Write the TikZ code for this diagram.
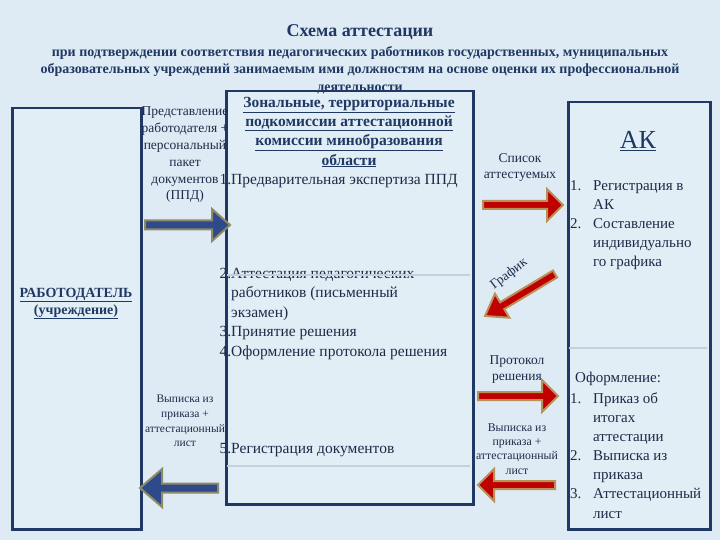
\documentclass[tikz,border=0pt]{standalone}
\usepackage{fontspec}
\setmainfont{Liberation Serif}
\usetikzlibrary{calc}
\definecolor{bg}{HTML}{DEEBF4}
\definecolor{boxfill}{HTML}{E2EEF6}
\definecolor{navy}{HTML}{1F3864}
\definecolor{txt}{HTML}{1E2A48}
\definecolor{divline}{HTML}{C3D1DC}
\definecolor{bluearr}{HTML}{2F4A8A}
\definecolor{bluebord}{HTML}{8E8A66}
\definecolor{redarr}{HTML}{C00000}
\definecolor{redbord}{HTML}{B8915A}
% #1 style, #2 from, #3 to, #4 shaft half width, #5 head half width, #6 head length
\newcommand{\blkarrow}[6]{%
  \path[#1] let \p1=(#2), \p2=(#3), \n1={atan2(\y2-\y1,\x2-\x1)},
    \n2={veclen(\x2-\x1,\y2-\y1)}, \n3={\n2-#6pt} in
    [shift={(\x1,\y1)}, rotate=\n1]
    (0pt,-#4pt) -- (\n3,-#4pt) -- (\n3,-#5pt) -- (\n2,0pt)
    -- (\n3,#5pt) -- (\n3,#4pt) -- (0pt,#4pt) -- cycle;}
\newcommand{\fs}[2]{\fontsize{#1}{#2}\selectfont}
\begin{document}
\begin{tikzpicture}[x=1pt,y=-1pt,
  box/.style={draw=navy, line width=2.5pt, fill=boxfill, inner sep=0pt},
  divider/.style={draw=divline, line width=2pt},
  lbl/.style={inner sep=0pt, text=txt, align=center},
  lleft/.style={inner sep=0pt, text=txt, align=left, anchor=west},
  bluearrow/.style={fill=bluearr, draw=bluebord, line width=2pt},
  redarrow/.style={fill=redarr, draw=redbord, line width=2pt}]
\fill[bg] (0,0) rectangle (720,540);
\useasboundingbox (0,0) rectangle (720,540);

% boxes
\node[box, anchor=north west, minimum width=129pt, minimum height=421pt] (emp) at (11,107) {};
\node[box, anchor=north west, minimum width=247pt, minimum height=413pt] (mid) at (225,90) {};
\node[box, anchor=north west, minimum width=142pt, minimum height=427pt] (ak) at (567,101) {};

% title
\node[lbl, text=navy, font=\bfseries\fs{18}{21}] (title) at (360,32) {Схема аттестации};
\node[lbl, text=navy, font=\bfseries\fs{14}{17.5}] (subtitle) at (360,70)
  {при подтверждении соответствия педагогических работников государственных, муниципальных\\
   образовательных учреждений занимаемым ими должностям на основе оценки их профессиональной\\
   деятельности};

% employer
\node[lbl, text=navy, font=\bfseries\fs{14}{17}] (emplbl) at (76,303.5)
  {\underline{РАБОТОДАТЕЛЬ}\\\underline{(учреждение)}};

% middle box texts
\node[lbl, text=navy, font=\bfseries\fs{15.5}{19.3}] (midhead) at (349,132)
  {\underline{Зональные, территориальные}\\\underline{подкомиссии аттестационной}\\
   \underline{комиссии минобразования}\\\underline{области}};
\node[lleft, font=\fs{15.5}{19.5}] (step1) at (231,181) {\llap{1.}Предварительная экспертиза ППД};
\node[lleft, font=\fs{15.5}{19.5}] (step2) at (231,314)
  {\llap{2.}Аттестация педагогических\\работников (письменный\\экзамен)\\
   \llap{3.}Принятие решения\\\llap{4.}Оформление протокола решения};
\node[lleft, font=\fs{15.5}{19.5}] (step5) at (231,450) {\llap{5.}Регистрация документов};

% AK box texts
\node[lbl, text=navy, font=\fs{26}{30}] (akhead) at (638,141) {\underline{АК}};
\node[lleft, font=\fs{15}{19}] (aklist1) at (593,225)
  {\llap{\makebox[23pt][l]{1.}}Регистрация в\\АК\\\llap{\makebox[23pt][l]{2.}}Составление\\индивидуально\\го графика};
\node[lleft, font=\fs{15}{19}] (oform) at (575,379) {Оформление:};
\node[lleft, font=\fs{15}{19.1}] (aklist2) at (593,455.5)
  {\llap{\makebox[23pt][l]{1.}}Приказ об\\итогах\\аттестации\\\llap{\makebox[23pt][l]{2.}}Выписка из\\приказа\\
   \llap{\makebox[23pt][l]{3.}}Аттестационный\\лист};

% dividers
\draw[divider] (227,275) -- (470,275);
\draw[divider] (227,466) -- (470,466);
\draw[divider] (569,348) -- (707,348);

% arrow labels
\node[lbl, font=\fs{13.5}{16.8}] (ppd) at (185,155)
  {Представление\\работодателя +\\персональный\\пакет\\документов\\(ППД)};
\node[lbl, font=\fs{11.5}{14.7}] (vyp1) at (185,421)
  {Выписка из\\приказа +\\аттестационный\\лист};
\node[lbl, font=\fs{13.5}{16}] (spisok) at (520,167) {Список\\аттестуемых};
\node[lbl, font=\fs{13.5}{16}, rotate=37] (graf) at (509,274) {График};
\node[lbl, font=\fs{13.5}{16}] (protokol) at (517,370) {Протокол\\решения};
\node[lbl, font=\fs{11.8}{14.2}] (vyp2) at (517,449)
  {Выписка из\\приказа +\\аттестационный\\лист};

% arrow end points
\coordinate (b1s) at (145,225); \coordinate (b1e) at (230,225);
\coordinate (b2s) at (218,488); \coordinate (b2e) at (140,488);
\coordinate (r1s) at (483,205); \coordinate (r1e) at (563,205);
\coordinate (r2s) at (555,274); \coordinate (r2e) at (485,316);
\coordinate (r3s) at (478,396); \coordinate (r3e) at (558,396);
\coordinate (r4s) at (555,485); \coordinate (r4e) at (478,485);

\blkarrow{bluearrow}{b1s}{b1e}{4.5}{16}{18}
\blkarrow{bluearrow}{b2s}{b2e}{4.5}{19}{22}
\blkarrow{redarrow}{r1s}{r1e}{4}{16}{16}
\blkarrow{redarrow}{r2s}{r2e}{4}{14}{20}
\blkarrow{redarrow}{r3s}{r3e}{4}{16}{16}
\blkarrow{redarrow}{r4s}{r4e}{4}{16}{16}
\end{tikzpicture}
\end{document}
